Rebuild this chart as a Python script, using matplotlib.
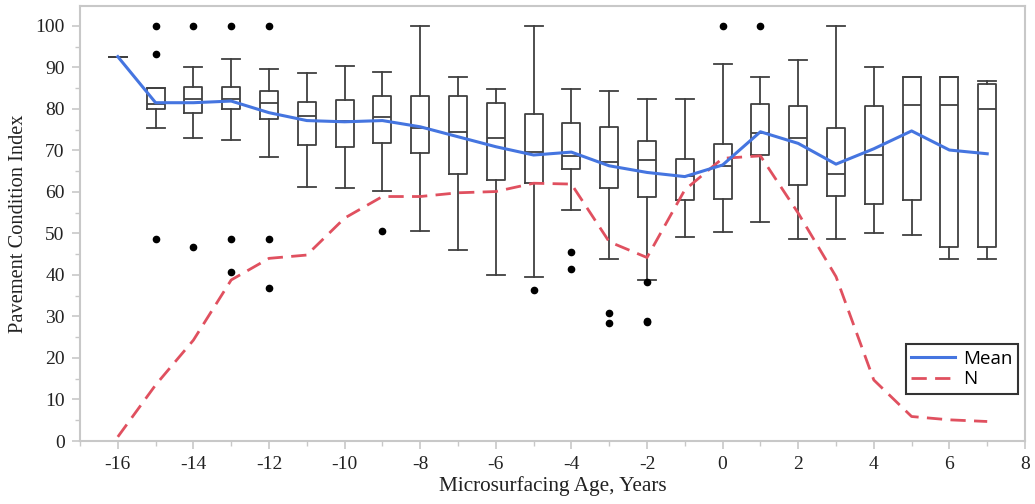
import matplotlib
matplotlib.use("Agg")
import matplotlib.pyplot as plt
from matplotlib.ticker import MultipleLocator

plt.rcParams["axes.unicode_minus"] = False

ages = [-16, -15, -14, -13, -12, -11, -10, -9, -8, -7, -6, -5, -4, -3, -2, -1, 0, 1, 2, 3, 4, 5, 6, 7]
q1 =     [92.6, 80.0, 79.0, 80.1, 77.6, 71.3, 70.8, 71.8, 69.4, 64.3, 63.0, 62.2, 65.5, 60.9, 58.7, 58.0, 58.2, 68.8, 61.7, 59.0, 57.0, 58.0, 46.7, 46.7]
median = [92.6, 81.1, 82.3, 82.5, 81.4, 78.3, 77.0, 78.0, 75.5, 74.5, 73.0, 69.6, 68.6, 67.3, 67.8, 63.9, 66.3, 74.3, 73.0, 64.4, 68.9, 80.9, 80.9, 79.9]
q3 =     [92.6, 85.1, 85.4, 85.4, 84.4, 81.7, 82.2, 83.2, 83.2, 83.0, 81.4, 78.7, 76.6, 75.7, 72.2, 68.0, 71.6, 81.1, 80.8, 75.5, 80.8, 87.8, 87.8, 85.9]
whislo = [92.6, 75.3, 72.9, 72.4, 68.4, 61.2, 60.9, 60.3, 50.6, 46.0, 39.9, 39.4, 55.6, 43.9, 38.8, 49.2, 50.3, 52.7, 48.7, 48.7, 50.0, 49.6, 43.9, 43.9]
whishi = [92.6, 85.1, 90.0, 92.0, 89.6, 88.7, 90.4, 88.9, 100.0, 87.8, 84.9, 100.0, 84.8, 84.3, 82.4, 82.4, 90.8, 87.8, 91.8, 100.0, 90.0, 87.8, 87.8, 86.8]
outliers = [[], [100, 93.3, 48.7], [100, 46.8], [100, 48.7, 40.8], [100, 48.7, 36.8], [], [], [50.6],
            [], [], [], [36.3], [45.5, 41.4], [30.8, 28.5], [38.2, 28.6, 28.9], [], [100], [100],
            [], [], [], [], [], []]
mean_pci = [92.6, 81.5, 81.5, 81.9, 79.1, 77.2, 76.9, 77.2, 75.7, 73.3, 70.9, 68.9, 69.6, 66.3, 64.7, 63.7,
            66.5, 74.5, 71.7, 66.7, 70.4, 74.7, 70.1, 69.2]
n_count = [1.0, 13.5, 24.3, 38.8, 44.0, 44.8, 53.7, 58.9, 58.9, 59.8, 60.1, 62.1, 61.9, 48.0, 44.2, 60.5,
           68.1, 68.7, 54.9, 39.6, 14.7, 5.9, 5.1, 4.7]

fig = plt.figure(figsize=(10.35, 5.04), dpi=100)
ax = fig.add_axes([80 / 1035, 1 - 441 / 504, (1025 - 80) / 1035, (441 - 6) / 504])

stats = []
for i in range(len(ages)):
    stats.append(dict(med=median[i], q1=q1[i], q3=q3[i], whislo=whislo[i], whishi=whishi[i],
                      fliers=outliers[i]))

boxc = "#404040"
ax.bxp(stats, positions=ages, widths=0.48, capwidths=0.48, showfliers=True, manage_ticks=False,
       boxprops=dict(color=boxc, linewidth=1.3),
       whiskerprops=dict(color=boxc, linewidth=1.3),
       capprops=dict(color=boxc, linewidth=1.3),
       medianprops=dict(color=boxc, linewidth=1.3),
       flierprops=dict(marker="o", markerfacecolor="black", markeredgecolor="black", markersize=4.5))

mean_line, = ax.plot(ages, mean_pci, color="#4575e0", linewidth=2.2, label="Mean", zorder=5)
n_line, = ax.plot(ages, n_count, color="#e0505f", linewidth=2.0, label="N", zorder=4)
n_line.set_dashes([5.5, 3])

ax.set_xlim(-17, 8)
ax.set_ylim(0, 104.8)
ax.xaxis.set_major_locator(MultipleLocator(2))
ax.xaxis.set_minor_locator(MultipleLocator(1))
ax.yaxis.set_major_locator(MultipleLocator(10))
ax.yaxis.set_minor_locator(MultipleLocator(5))

spine_c = "#c8c8c8"
for s in ax.spines.values():
    s.set_color(spine_c)
    s.set_linewidth(1.5)
ax.tick_params(which="major", length=6, width=1.2, color=spine_c, labelsize=14, pad=5)
ax.tick_params(which="minor", length=3.5, width=1.0, color=spine_c)

serif = ["Liberation Serif", "DejaVu Serif"]
for lbl in ax.get_xticklabels() + ax.get_yticklabels():
    lbl.set_fontfamily(serif)
    lbl.set_color("#222222")

ax.set_xlabel("Microsurfacing Age, Years", fontfamily=serif, fontsize=15.3, color="#222222", labelpad=2)
ax.set_ylabel("Pavement Condition Index", fontfamily=serif, fontsize=14.7, color="#222222", labelpad=5)

leg = ax.legend(handles=[mean_line, n_line], loc="lower right", bbox_to_anchor=(0.9985, 0.095),
                frameon=True, fancybox=False, prop={"family": "Open Sans", "size": 13.5},
                handlelength=2.3, handletextpad=0.45, borderpad=0.3, labelspacing=0.15, borderaxespad=0.3)
leg.get_frame().set_edgecolor("black")
leg.get_frame().set_linewidth(1.5)

fig.savefig("out.png", dpi=100)
